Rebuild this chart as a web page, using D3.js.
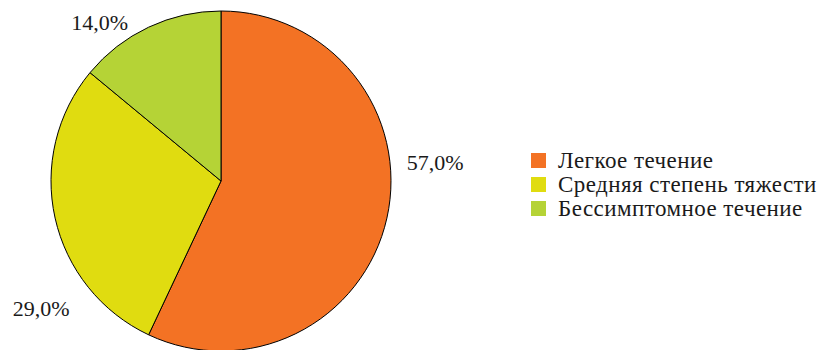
<!DOCTYPE html>
<html><head><meta charset="utf-8">
<script src="https://cdn.jsdelivr.net/npm/d3@7"></script>
<style>html,body{margin:0;padding:0;background:#fff;}svg{display:block;}</style>
</head><body>
<script>
const categories = ["Легкое течение", "Средняя степень тяжести", "Бессимптомное течение"];
const values = [57.0, 29.0, 14.0];
const labels = ["57,0%", "29,0%", "14,0%"];
const colors = ["#F37224", "#E0DC10", "#B5D336"];

const W = 833, H = 350;
const cx = 221, cy = 181, R = 170;
const font = "'Liberation Serif', 'Times New Roman', serif";

const svg = d3.select("body").append("svg").attr("width", W).attr("height", H);
const g = svg.append("g").attr("transform", `translate(${cx},${cy})`);

const pie = d3.pie().sort(null).value(d => d)(values);
const arc = d3.arc().innerRadius(0).outerRadius(R);

g.selectAll("path").data(pie).join("path")
  .attr("d", arc)
  .attr("fill", (d, i) => colors[i])
  .attr("stroke", "#000")
  .attr("stroke-width", 1);

// label placement (Excel-style outside labels): angle offset (deg) and radius
const labelLayout = [
  {da: -17.6, r: 215},
  {da: -22.6, r: 220},
  {da: -12.2, r: 200}
];
g.selectAll("text.lbl").data(pie).join("text")
  .attr("class", "lbl")
  .attr("x", (d, i) => {
    const a = (d.startAngle + d.endAngle) / 2 + labelLayout[i].da * Math.PI / 180;
    return Math.sin(a) * labelLayout[i].r;
  })
  .attr("y", (d, i) => {
    const a = (d.startAngle + d.endAngle) / 2 + labelLayout[i].da * Math.PI / 180;
    return -Math.cos(a) * labelLayout[i].r;
  })
  .attr("text-anchor", "middle")
  .attr("dy", "0.35em")
  .attr("font-family", font)
  .attr("font-size", 22)
  .attr("fill", "#1a1a1a")
  .text((d, i) => labels[i]);

const leg = svg.append("g").attr("transform", "translate(531,153)");
const ly = d3.scaleBand().domain(categories).range([0, 72]);
const rows = leg.selectAll("g").data(categories).join("g")
  .attr("transform", d => `translate(0,${ly(d)})`);
rows.append("rect").attr("width", 15).attr("height", 15).attr("fill", (d, i) => colors[i]);
rows.append("text").attr("x", 27).attr("y", 15)
  .attr("font-family", font).attr("font-size", 23).attr("letter-spacing", 0.45)
  .attr("fill", "#1a1a1a")
  .text(d => d);
</script>
</body></html>
